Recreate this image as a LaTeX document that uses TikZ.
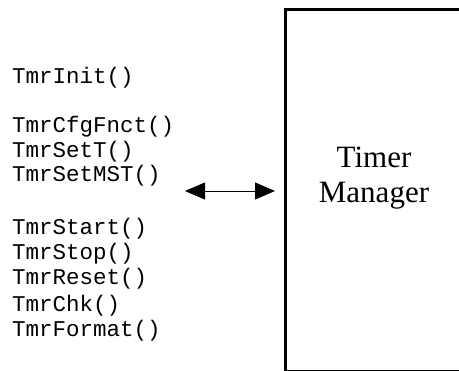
\documentclass[tikz,border=0pt]{standalone}
\usepackage{fontspec}
\setmainfont{Liberation Serif}
\setmonofont{Liberation Mono}
\usetikzlibrary{positioning,arrows.meta}

\begin{document}
\begin{tikzpicture}[x=1pt,y=-1pt,
    fn/.style={anchor=base west, inner sep=0pt, font=\ttfamily\fontsize{22.5}{25}\selectfont},
    mgrbox/.style={draw, line width=3pt, anchor=north west, minimum width=220pt, minimum height=362pt, inner sep=0pt}]
    \useasboundingbox (0,0) rectangle (459,371);
    \clip (0,0) rectangle (459,371);
    \fill[white] (0,0) rectangle (459,371);
    % service functions
    \foreach \y/\lab [count=\i] in {84/TmrInit(),133/TmrCfgFnct(),157.5/TmrSetT(),182/TmrSetMST(),
      235/TmrStart(),260/TmrStop(),285/TmrReset(),312/TmrChk(),337/TmrFormat()}
      \node[fn] (fn\i) at (12,\y) {\lab};
    \node[mgrbox] (mgr) at (284,8) {};
    \node[align=center, font=\fontsize{31}{35}\selectfont] (mgrtxt) at (374,178) {Timer\\Manager};
    \coordinate (api) at (185,191);
    \draw[{Triangle[length=20pt,width=17pt]}-{Triangle[length=20pt,width=17pt]}, line width=0.8pt, shorten >=9pt]
      (api) -- (mgr.west |- api);
  \end{tikzpicture}
\end{document}
